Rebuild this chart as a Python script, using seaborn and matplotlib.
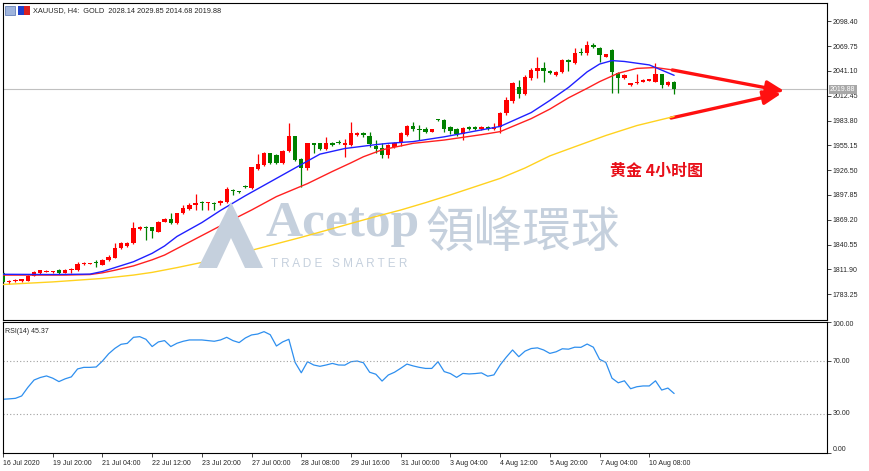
import numpy as np
import pandas as pd
import seaborn as sns
import matplotlib
matplotlib.use('Agg')
import matplotlib.pyplot as plt
from matplotlib.patches import Polygon, Rectangle

# ---- data (XAUUSD H4) ----
opens = [1808, 1797, 1798, 1798, 1799, 1804.6, 1808, 1809.5, 1808.8, 1810.7,
         1808, 1811, 1811.2, 1818, 1818.3, 1821, 1817, 1822.5, 1825.5, 1836.3,
         1839, 1842, 1858.6, 1860.9, 1860.5, 1855.4, 1867, 1870.1, 1865, 1877.6,
         1882, 1886, 1890, 1888.3, 1889, 1888.1, 1890, 1903.6, 1902, 1908.1,
         1905.4, 1927.4, 1932.4, 1945.9, 1943.9, 1935.1, 1948.9, 1965.9, 1939.3, 1928.5,
         1957.4, 1957.4, 1950.5, 1958.2, 1959, 1955.5, 1955.5, 1967.1, 1969.8, 1966,
         1954.3, 1951.7, 1944, 1953.5, 1957.4, 1967.1, 1977.5, 1974, 1973.6, 1971,
         1985.2, 1984.4, 1975.9, 1973.6, 1968.3, 1976, 1976.7, 1974, 1976, 1973.6,
         1976, 1992, 2006, 2023, 2015, 2032.5, 2041, 2044, 2041, 2036.4,
         2040, 2053.7, 2050, 2063.3, 2061.4, 2071, 2068, 2057.6, 2065.3, 2038.3,
         2032.5, 2024.8, 2026.8, 2028.7, 2029.8, 2028.7, 2037.2, 2024.8, 2028.14]
closes = [1797.6, 1799, 1799.5, 1800.4, 1804.3, 1808.6, 1810.8, 1810.3, 1809.6, 1807.7,
          1811.2, 1812, 1818.3, 1819, 1818.8, 1819, 1823.2, 1826.6, 1836.3, 1842.1,
          1842.8, 1859.4, 1860.9, 1859.4, 1856.2, 1867, 1870, 1865.1, 1876.7, 1882.9,
          1886, 1888.5, 1888.2, 1889, 1888, 1891.2, 1904.3, 1902.7, 1901.6, 1906.6,
          1929.7, 1933.2, 1945.9, 1934.3, 1935.1, 1948.9, 1965.9, 1938.2, 1928.5, 1957.4,
          1955.5, 1950.5, 1958.2, 1955.5, 1957.4, 1957.4, 1969, 1969.8, 1967.1, 1957,
          1950.5, 1944, 1955.5, 1958.2, 1969, 1977.5, 1973.6, 1973, 1971, 1973.6,
          1984.4, 1973.6, 1972, 1968.3, 1974.8, 1973.6, 1973.6, 1976.7, 1973.6, 1976,
          1992.1, 2007.5, 2027, 2015, 2034.5, 2042, 2044, 2041, 2038.3, 2040.2,
          2053.7, 2051.8, 2061.4, 2061.4, 2071, 2069, 2059.5, 2060.2, 2039.5, 2032.5,
          2036.4, 2026.8, 2028.7, 2030.6, 2031.4, 2037.2, 2024.8, 2028.7, 2019.88]
highs = [1810, 1800, 1801, 1801, 1806, 1810, 1811.5, 1811, 1810.5, 1812,
         1812, 1813, 1820, 1820, 1819.5, 1823, 1824, 1828, 1842, 1843,
         1844, 1866.3, 1861.5, 1861.5, 1861, 1868, 1871, 1876.7, 1877.5, 1886,
         1889, 1899, 1891, 1889.6, 1890, 1892, 1906.6, 1904.5, 1902.5, 1909.3,
         1930.5, 1944.7, 1947, 1946.6, 1945, 1950, 1981.3, 1966.5, 1940, 1958,
         1957.8, 1958, 1965, 1959, 1961, 1962, 1982.5, 1970.5, 1970.5, 1970.5,
         1961, 1957.5, 1957, 1959, 1970, 1979, 1982, 1978.6, 1976.7, 1974.5,
         1986, 1986, 1977, 1975, 1976, 1977, 1978, 1977.5, 1977, 1980.6,
         1994, 2011, 2028, 2030.6, 2036, 2044, 2057.6, 2051.8, 2042, 2041,
         2055, 2054.5, 2067.2, 2067.2, 2075.7, 2073, 2069, 2061, 2066, 2040,
         2037, 2027.5, 2037.2, 2031.5, 2032, 2049.9, 2038, 2029, 2029.85]
lows = [1795, 1795, 1797, 1797, 1798, 1804, 1807, 1809, 1808, 1807,
        1807.5, 1808, 1810.5, 1817, 1818, 1815, 1816.5, 1822, 1825, 1836,
        1838, 1841, 1857, 1846, 1848, 1855, 1866.5, 1864, 1864.5, 1876,
        1880.5, 1881, 1880.5, 1881, 1881, 1886, 1889, 1897.5, 1900.5, 1905.4,
        1905, 1926.5, 1931.5, 1933.5, 1934, 1934, 1948, 1937, 1906.6, 1927,
        1946.6, 1949.5, 1949.5, 1954.5, 1956.5, 1942, 1954.5, 1966, 1965, 1953,
        1946, 1940, 1940, 1952, 1954, 1965.5, 1972, 1961, 1969, 1970,
        1983, 1971, 1968, 1966, 1961, 1972.5, 1972.5, 1973, 1972.5, 1972.5,
        1969, 1990, 2004, 2009.4, 2013, 2030.6, 2032.5, 2028.7, 2037, 2035,
        2039, 2041, 2049, 2059.5, 2060, 2067.2, 2051, 2057, 2015.2, 2015.2,
        2032, 2024, 2026, 2028, 2029, 2028, 2021, 2024, 2014.68]

# moving averages, read at some bars
blue_bars = [0, 8, 14, 16, 18, 21, 24, 26, 28, 32, 35, 39, 43, 48, 51, 55, 60, 62, 66,
             71, 77, 80, 85, 88, 91, 94, 96, 98, 100, 104, 108]
blue_ma = [1806.3, 1806.0, 1806.5, 1809.5, 1814, 1820.8, 1830.5, 1839, 1850, 1866, 1880,
           1897, 1913, 1933, 1945, 1951.5, 1956, 1957.5, 1959.5, 1965, 1973, 1977, 1993,
           2007, 2022, 2040, 2049, 2053, 2052, 2048, 2036]
red_bars = [0, 10, 14, 16, 18, 21, 24, 26, 28, 32, 36, 40, 44, 49, 53, 56, 58, 61, 66,
            71, 77, 80, 85, 88, 91, 94, 96, 99, 102, 105, 108]
red_ma = [1805.4, 1805.4, 1806, 1808, 1811, 1816, 1823, 1828.5, 1836, 1851, 1866, 1880.5,
          1896, 1911, 1925, 1935, 1942, 1950, 1957.5, 1961.3, 1967.5, 1971, 1986, 1997,
          2010, 2021, 2028.7, 2038.4, 2044, 2045, 2042]
yellow_bars = [0, 8, 16, 21, 24, 28, 32, 36, 40, 44, 48, 52, 56, 60, 64, 68, 72, 76, 80,
               84, 88, 92, 97, 102, 108]
yellow_ma = [1794.5, 1797.5, 1801.5, 1805.4, 1808.5, 1814, 1820, 1827, 1834, 1841.5, 1849,
             1857, 1865, 1873, 1880.5, 1889, 1898, 1907.5, 1917, 1929, 1943, 1953.5,
             1966.5, 1978, 1988.5]

rsi = [41, 41.3, 41.7, 43.5, 50, 55.6, 57.5, 58.7, 57, 54.4,
       56.5, 58, 64, 65.2, 65.2, 65.5, 70, 75.5, 79.6, 82.7,
       83.4, 88, 88.5, 86.5, 81, 84.5, 85.5, 81, 83.5, 85,
       86, 86, 86, 85.5, 85, 86, 88, 85.5, 84, 87.5,
       89.8, 90.5, 92.3, 90, 81.4, 84.5, 86.5, 69, 61.1, 69.5,
       67, 66, 67, 68.2, 67, 66.9, 69.5, 70, 68.7, 61.5,
       60, 54.8, 59.4, 61.5, 64.5, 67.7, 66.3, 65.2, 64.4, 64.4,
       69.5, 62, 60.5, 57.6, 60.6, 60.2, 60.5, 61, 58.5, 59.5,
       67, 73, 78.4, 73.3, 77.5, 79.5, 80, 78.4, 75.8, 77,
       79.3, 79, 80.5, 80.4, 82.9, 80.5, 71.3, 69, 57, 53.5,
       55, 49, 50.5, 51.1, 51.1, 55, 48, 49.5, 45.37]

price_ticks = [2098.40, 2069.75, 2041.10, 2012.45, 1983.80, 1955.15, 1926.50, 1897.85,
               1869.20, 1840.55, 1811.90, 1783.25]
rsi_ticks = [0, 30, 70, 100]
time_labels = ['16 Jul 2020', '19 Jul 20:00', '21 Jul 04:00', '22 Jul 12:00', '23 Jul 20:00',
               '27 Jul 00:00', '28 Jul 08:00', '29 Jul 16:00', '31 Jul 00:00', '3 Aug 04:00',
               '4 Aug 12:00', '5 Aug 20:00', '7 Aug 04:00', '10 Aug 08:00']
last_price = 2019.88

sns.set_style('white')
plt.rcParams['font.family'] = ['Liberation Sans', 'DejaVu Sans', 'Noto Sans CJK SC']

W, H = 870, 471
fig = plt.figure(figsize=(W / 100, H / 100), dpi=100)
ax = fig.add_axes([3 / W, 1 - 319.5 / H, 824 / W, 316.5 / H])
ax2 = fig.add_axes([3 / W, 1 - 453.3 / H, 824 / W, 131.8 / H], sharex=ax)

o = np.array(opens)
c = np.array(closes)
bars = np.arange(len(o))
col = np.where(c >= o, '#ff0000', '#008000')

# candles
ax.vlines(bars, lows, highs, colors=col, lw=0.9, zorder=2)
ax.bar(bars, np.maximum(np.abs(c - o), 0.9), bottom=np.minimum(o, c), width=0.7,
       color=col, linewidth=0, zorder=3)

ma = pd.concat([
    pd.DataFrame({'bar': yellow_bars, 'val': yellow_ma, 'ma': 'yellow'}),
    pd.DataFrame({'bar': red_bars, 'val': red_ma, 'ma': 'red'}),
    pd.DataFrame({'bar': blue_bars, 'val': blue_ma, 'ma': 'blue'}),
])
sns.lineplot(data=ma, x='bar', y='val', hue='ma', ax=ax, legend=False, lw=1,
             palette={'yellow': '#ffd21f', 'red': '#ff2020', 'blue': '#2020ff'}, zorder=4)

ax.axhline(last_price, color='#c0c0c0', lw=0.8, zorder=1)
ax.text(1.0036, last_price, f'{last_price:.2f}', transform=ax.get_yaxis_transform(),
        fontsize=5, color='white', va='center', ha='left', clip_on=False, zorder=6,
        bbox=dict(boxstyle='square,pad=0.15', fc='#a8a8a8', ec='none'))

ax.set_xlim(0.05, 132.6)
ax.set_ylim(1754.1, 2119.5)
ax.yaxis.tick_right()
ax.set_yticks(price_ticks)
ax.set_yticklabels([f'{v:.2f}' for v in price_ticks])
ax.tick_params(axis='y', labelsize=5, length=3, width=0.6, pad=1, direction='out', right=True)
ax.tick_params(axis='x', bottom=False, labelbottom=False)
ax.set_xlabel('')
ax.set_ylabel('')

# arrows and note
arrow = dict(arrowstyle='-|>,head_length=0.9,head_width=0.35', color='#ff1010', lw=2.4,
             shrinkA=0, shrinkB=0, mutation_scale=12)
ax.annotate('', xy=(125.8, 2017.5), xytext=(107.7, 2042.2), arrowprops=arrow, annotation_clip=False)
ax.annotate('', xy=(125.3, 2015.2), xytext=(107.5, 1986.7), arrowprops=arrow, annotation_clip=False)
fig.text(610 / W, 1 - 171 / H, '黄金 4小时图', color='#e8101a', fontsize=11.5, fontweight='bold',
         family=['Noto Sans CJK SC'], va='center', ha='left')

# watermark
wm = '#c5d0dd'
ax.text(265 / W, 1 - 224 / H, 'Acetop', transform=fig.transFigure, fontsize=37, color=wm,
        family=['Liberation Serif'], fontweight='bold', va='center', ha='left', zorder=0.5)
ax.text(425 / W, 1 - 233 / H, '領峰環球', transform=fig.transFigure, fontsize=35, color=wm,
        family=['Noto Sans CJK TC'], va='center', ha='left', zorder=0.5)
ax.text(271 / W, 1 - 264 / H, 'T R A D E   S M A R T E R', transform=fig.transFigure,
        fontsize=8.5, color=wm, va='center', ha='left', zorder=0.5)
fig.add_artist(Polygon([(198 / W, 1 - 268 / H), (231 / W, 1 - 202 / H), (263 / W, 1 - 268 / H)],
                       closed=True, fc=wm, ec='none', transform=fig.transFigure, zorder=0.3))
fig.add_artist(Polygon([(217 / W, 1 - 268 / H), (231 / W, 1 - 238 / H), (245 / W, 1 - 268 / H)],
                       closed=True, fc='white', ec='none', transform=fig.transFigure, zorder=0.35))

# header
fig.add_artist(Rectangle((5 / W, 1 - 15 / H), 10 / W, 9 / H, fc='#9fb4dc', ec='#5070b0', lw=0.5,
                         transform=fig.transFigure))
fig.add_artist(Rectangle((18 / W, 1 - 15 / H), 6 / W, 9 / H, fc='#2040c8', ec='none',
                         transform=fig.transFigure))
fig.add_artist(Rectangle((24 / W, 1 - 15 / H), 6 / W, 9 / H, fc='#d82020', ec='none',
                         transform=fig.transFigure))
fig.text(33 / W, 1 - 10.5 / H, 'XAUUSD, H4:  GOLD  2028.14 2029.85 2014.68 2019.88',
         fontsize=5.3, va='center', ha='left')

# RSI panel
sns.lineplot(x=bars, y=rsi, ax=ax2, color='#2e8fef', lw=0.9)
for lvl in (70, 30):
    ax2.axhline(lvl, color='#a0a0a0', lw=0.8, ls=(0, (1, 2)))
ax2.set_ylim(0, 100)
ax2.yaxis.tick_right()
ax2.set_yticks(rsi_ticks)
ax2.set_yticklabels([f'{v:.2f}' for v in rsi_ticks])
ax2.tick_params(axis='y', labelsize=5, length=3, width=0.6, pad=1, direction='out', right=True)
for lbl, va in zip(ax2.get_yticklabels(), ['bottom', 'center', 'center', 'top']):
    lbl.set_va(va)
ax2.set_xticks(range(0, 8 * len(time_labels), 8))
ax2.set_xticklabels(time_labels, ha='left')
ax2.tick_params(axis='x', labelsize=5, length=3, width=0.6, pad=1.5, direction='out', bottom=True)
ax2.set_xlabel('')
ax2.set_ylabel('')
ax2.text(0.002, 0.95, f'RSI(14) {rsi[-1]:.2f}', transform=ax2.transAxes, fontsize=5,
         va='top', ha='left')

for a in (ax, ax2):
    for s in a.spines.values():
        s.set_visible(True)
        s.set_color('black')
        s.set_linewidth(0.8)

fig.savefig('out.png', dpi=100, facecolor='white')
